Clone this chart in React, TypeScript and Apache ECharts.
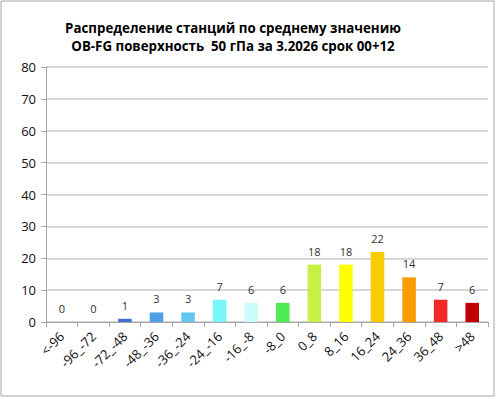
import React, { useEffect, useRef } from "react";
import * as echarts from "echarts";

const categories = ["<-96", "-96_-72", "-72_-48", "-48_-36", "-36_-24", "-24_-16", "-16_-8", "-8_0", "0_8", "8_16", "16_24", "24_36", "36_48", ">48"];
const values = [0, 0, 1, 3, 3, 7, 6, 6, 18, 18, 22, 14, 7, 6];
const barColors = ["#1f3f9a", "#2a55b8", "#3d6fd4", "#4fa0e6", "#66c6f2", "#76f6fa", "#ccfcfc", "#4ced52", "#c8f044", "#ffff00", "#f8cc00", "#f89c00", "#f02a2a", "#c00000"];
const yTicks = { min: 0, max: 80, interval: 10 };
const titleLines = ["Распределение станций по среднему значению", "OB-FG поверхность  50 гПа за 3.2026 срок 00+12"];

export default function App() {
  const ref = useRef<HTMLDivElement>(null);
  useEffect(() => {
    const chart = echarts.init(ref.current!, undefined, { renderer: "svg" });
    chart.setOption({
      animation: false,
      backgroundColor: "#ffffff",
      title: {
        text: titleLines.join("\n"),
        left: 228,
        top: 14,
        textAlign: "center",
        textStyle: { fontFamily: "Open Sans", fontWeight: "bold", fontSize: 13.3, lineHeight: 18, color: "#000" },
      },
      graphic: [
        { type: "rect", shape: { x: 1, y: 1, width: 493, height: 395 }, style: { fill: "none", stroke: "#a6a6a6", lineWidth: 1 }, silent: true },
      ],
      grid: { left: 46, right: 8, top: 67, bottom: 77 },
      xAxis: {
        type: "category",
        data: categories,
        boundaryGap: true,
        axisLine: { lineStyle: { color: "#a6a6a6" } },
        axisTick: { show: true, alignWithLabel: false, length: 5, lineStyle: { color: "#a6a6a6" } },
        axisLabel: { rotate: 45, interval: 0, fontSize: 13, fontFamily: "Open Sans", color: "#111", margin: 12 },
      },
      yAxis: {
        type: "value",
        min: yTicks.min,
        max: yTicks.max,
        interval: yTicks.interval,
        axisLine: { show: true, lineStyle: { color: "#a6a6a6" } },
        axisTick: { show: true, length: 5, lineStyle: { color: "#a6a6a6" } },
        axisLabel: { fontSize: 13, fontFamily: "Open Sans", color: "#111", margin: 10 },
        splitLine: { lineStyle: { color: "#c8c8c8", width: 1.5 } },
      },
      series: [
        {
          type: "bar",
          data: values.map((v, i) => ({ value: v, itemStyle: { color: barColors[i] } })),
          barWidth: "43%",
          label: { show: true, position: "top", distance: 8, fontSize: 11, fontFamily: "Open Sans", color: "#333" },
        },
      ],
    });
    return () => chart.dispose();
  }, []);
  return <div ref={ref} style={{ position: "fixed", left: 0, top: 0, width: 496, height: 399 }} />;
}
